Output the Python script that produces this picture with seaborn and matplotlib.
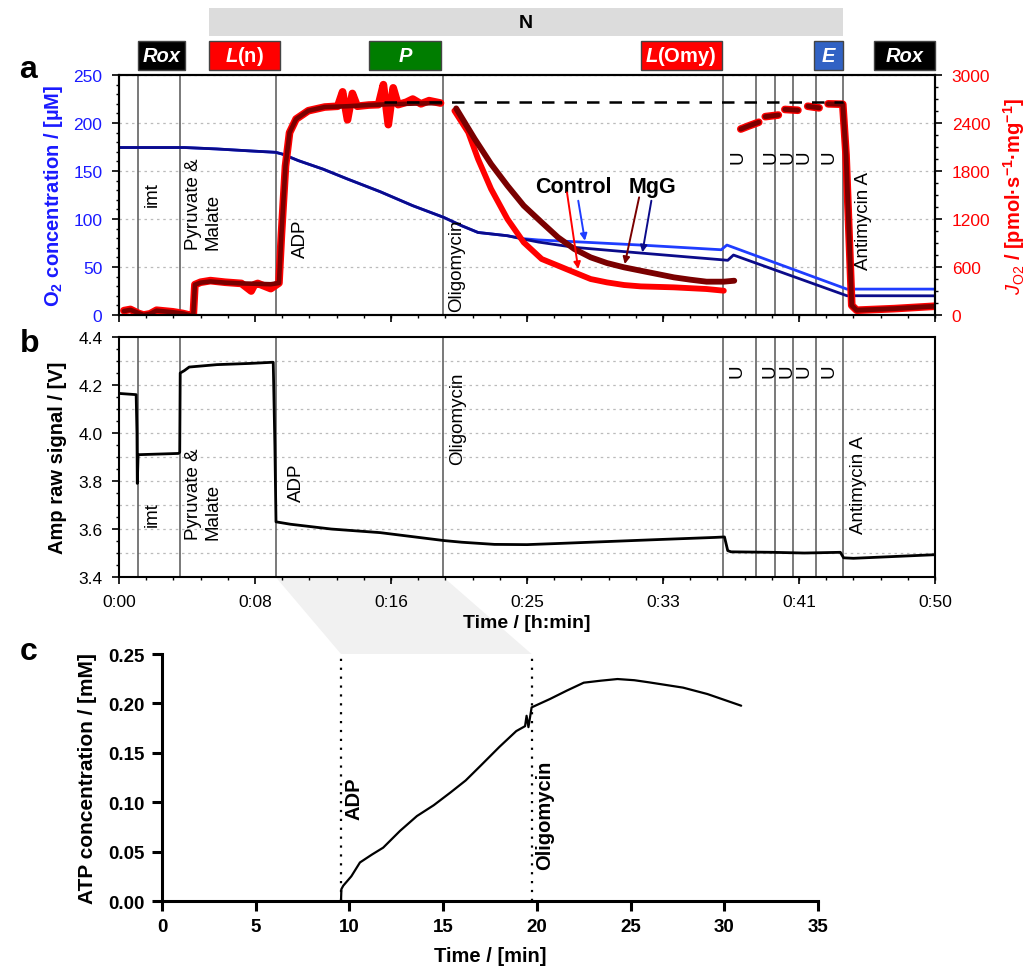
import matplotlib
matplotlib.use("Agg")
import matplotlib.pyplot as plt
import matplotlib.transforms as mtransforms
from matplotlib.patches import Rectangle, Polygon
from matplotlib.ticker import MultipleLocator, AutoMinorLocator, FormatStrFormatter
import seaborn as sns

# ---------------- data ----------------
TIME_TICKS = [0, 8.333, 16.667, 25, 33.333, 41.667, 50]
TIME_TICK_LABELS = ["0:00", "0:08", "0:16", "0:25", "0:33", "0:41", "0:50"]

EVENT_T = [1.16, 3.73, 9.6, 19.87, 37.04, 39.06, 40.22, 41.32, 42.73, 44.38]
EVENT_NAMES = ["imt", "Pyruvate &\nMalate", "ADP", "Oligomycin",
               "U", "U", "U", "U", "U", "Antimycin A"]

STATE_NAMES = ["Rox", "L(n)", "P", "L(Omy)", "E", "Rox"]
STATE_START = [1.16, 5.5, 15.34, 31.97, 42.6, 46.27]
STATE_END = [4.03, 9.84, 19.74, 36.92, 44.38, 50.0]
STATE_COLORS = ["#000000", "#ff0000", "#007d00", "#ff0000", "#3162c4", "#000000"]
N_SPAN = [5.5, 44.38]

# O2 concentration [uM]
O2_CTRL_T = [0, 4, 6, 8, 9.6, 10, 11, 12.5, 14, 16, 18, 19.9, 21, 22, 23.8, 24.8,
             25.7, 27.9, 31.95, 36.9, 37.25, 44.6, 50]
O2_CTRL = [174.5, 174.5, 173, 171, 169.5, 167.7, 160.8, 152, 141.7, 128.5, 113.9,
           101.7, 93, 86, 82.6, 79.5, 78.2, 76.4, 72.9, 68, 72.9, 27, 27]
O2_MGG_T = [0, 4, 6, 8, 9.6, 10, 11, 12.5, 14, 16, 18, 19.9, 21, 22, 23.8, 24.8,
            25.7, 27.9, 31.95, 36.9, 37.3, 37.65, 44.6, 50]
O2_MGG = [174.5, 174.5, 173, 171, 169.5, 167.7, 160.8, 152, 141.7, 128.5, 113.9,
          101.7, 93, 86, 82.6, 79, 76, 70.5, 64.6, 57.6, 57, 62.5, 20.1, 20]

# O2 flux J_O2 [pmol/(s*mg)]
CTRL_J_T1 = [0.3, 0.7, 1.2, 1.5, 1.9, 2.3, 2.8, 3.3, 3.9, 4.3, 4.55, 4.65, 5.0, 5.6,
             6.5, 7.5, 8.1, 8.3, 8.5, 9.3, 9.8, 9.95, 10.2, 10.45, 10.85, 11.6, 12.6,
             13.4, 13.7, 14.0, 14.3, 14.6, 15.3, 15.9, 16.2, 16.5, 16.8, 17.1, 17.6,
             18.0, 18.5, 19.0, 19.7]
CTRL_J1 = [55, 70, 20, 0, 15, 60, 50, 40, 20, 0, 0, 380, 410, 430, 410, 395, 300,
           380, 395, 330, 400, 1000, 1860, 2280, 2450, 2554, 2600, 2610, 2790, 2440,
           2770, 2610, 2625, 2630, 2880, 2380, 2840, 2630, 2660, 2700, 2640, 2680, 2650]
MGG_J_T1 = [0.3, 0.7, 1.2, 1.5, 1.9, 2.3, 2.8, 3.3, 3.9, 4.3, 4.55, 4.65, 5.0, 5.6,
            6.5, 7.5, 8.5, 9.3, 9.8, 9.95, 10.2, 10.45, 10.85, 11.6, 12.6, 14.0, 15.3,
            16.5, 17.5, 18.5, 19.7]
MGG_J1 = [50, 65, 25, 0, 15, 55, 45, 35, 20, 0, 0, 380, 405, 420, 405, 395, 390, 385,
          400, 1000, 1860, 2280, 2450, 2554, 2600, 2610, 2625, 2635, 2640, 2645, 2650]

CTRL_J_T2 = [20.55, 21.4, 22.0, 22.8, 23.8, 24.8, 25.9, 26.9, 27.9, 28.9, 29.9, 30.95,
             31.97, 34.0, 36.0, 37.06]
CTRL_J2 = [2554, 2283, 1950, 1575, 1200, 908, 700, 617, 533, 450, 408, 375, 358, 346,
           325, 304]
MGG_J_T2 = [20.66, 21.8, 22.8, 23.8, 24.8, 25.9, 26.9, 27.9, 28.9, 29.9, 30.95, 31.97,
            33.0, 34.0, 35.0, 36.0, 37.06, 37.7]
MGG_J2 = [2583, 2200, 1887, 1617, 1367, 1158, 971, 825, 721, 650, 596, 554, 512, 471,
          442, 417, 417, 429]

# uncoupler titration steps and antimycin tail (both traces overlap)
U_J_T = [[38.1, 38.6, 39.2], [39.6, 40.4], [40.8, 41.6], [42.2, 42.9],
         [43.45, 44.35, 44.55, 44.9, 45.2, 47.5, 50]]
U_J = [[2325, 2365, 2410], [2480, 2500], [2570, 2560], [2610, 2590],
       [2640, 2635, 2000, 120, 60, 80, 110]]

MAX_REF = 2660
MAX_REF_SPAN = [16.26, 44.38]

# Amp raw signal [V]
AMP_T = [0, 1.05, 1.1, 1.12, 1.17, 1.3, 3.65, 3.72, 3.75, 4.0, 4.3, 6, 8, 9.45, 9.55,
         9.62, 10.5, 13, 16, 19.9, 21, 23, 25, 27, 30, 33, 36.5, 37.1, 37.3, 37.5, 40,
         42, 44.2, 44.4, 45, 47, 50]
AMP_V = [4.165, 4.16, 4.0, 3.79, 3.91, 3.91, 3.915, 3.92, 4.25, 4.26, 4.275, 4.285,
         4.29, 4.295, 3.95, 3.63, 3.62, 3.60, 3.585, 3.552, 3.545, 3.536, 3.535, 3.54,
         3.548, 3.556, 3.565, 3.567, 3.51, 3.505, 3.503, 3.50, 3.503, 3.48, 3.478,
         3.484, 3.493]

# ATP concentration [mM]
ATP_T = [9.55, 9.57, 9.67, 10.1, 10.56, 11.2, 11.8, 12.7, 13.6, 14.5, 15.4, 16.2, 17.0,
         18.0, 18.9, 19.37, 19.45, 19.55, 19.72, 20.7, 21.6, 22.5, 23.4, 24.3, 25.2,
         26.0, 27.8, 29.1, 30.9]
ATP = [0.0, 0.012, 0.0155, 0.025, 0.039, 0.047, 0.054, 0.071, 0.086, 0.097, 0.110,
       0.122, 0.137, 0.156, 0.172, 0.177, 0.1875, 0.176, 0.196, 0.2045, 0.213, 0.221,
       0.223, 0.2247, 0.2235, 0.2213, 0.216, 0.2095, 0.1977]
ATP_EVENT_T = [9.55, 19.72]
ATP_EVENT_NAMES = ["ADP", "Oligomycin"]

# ---------------- style ----------------
sns.set_style("ticks")
plt.rcParams["font.family"] = ["Liberation Sans", "DejaVu Sans"]
plt.rcParams["mathtext.fontset"] = "custom"
plt.rcParams["mathtext.rm"] = "Liberation Sans"
plt.rcParams["mathtext.it"] = "Liberation Sans:italic"
plt.rcParams["mathtext.bf"] = "Liberation Sans:bold"
plt.rcParams["mathtext.bfit"] = "Liberation Sans:italic:bold"
for key in ("text.color", "axes.labelcolor", "axes.edgecolor",
            "xtick.color", "ytick.color", "xtick.labelcolor", "ytick.labelcolor"):
    plt.rcParams[key] = "black"

BLUE_TXT = "#1a1aff"
RED = "#ff0000"
DARK_RED = "#7a0000"
CTRL_BLUE = "#1f3dff"
MGG_BLUE = "#0b0b8a"
EVENT_COLOR = "#555555"

fig = plt.figure(figsize=(10.26, 9.70), dpi=100)
axa = fig.add_axes([0.116, 0.6742, 0.7953, 0.2474])
axb = fig.add_axes([0.116, 0.4041, 0.7953, 0.2474])
axc = fig.add_axes([0.1579, 0.0701, 0.6394, 0.2546])
axj = axa.twinx()

# ---------------- panel a ----------------
for t in EVENT_T:
    axa.axvline(t, color=EVENT_COLOR, lw=1.1, zorder=1)

sns.lineplot(x=O2_CTRL_T, y=O2_CTRL, ax=axa, color=CTRL_BLUE, lw=2.0,
             estimator=None, sort=False, legend=False)
sns.lineplot(x=O2_MGG_T, y=O2_MGG, ax=axa, color=MGG_BLUE, lw=2.0,
             estimator=None, sort=False, legend=False)

sns.lineplot(x=CTRL_J_T1, y=CTRL_J1, ax=axj, color=RED, lw=5.5,
             estimator=None, sort=False, legend=False)
sns.lineplot(x=MGG_J_T1, y=MGG_J1, ax=axj, color=DARK_RED, lw=3.3,
             estimator=None, sort=False, legend=False)
sns.lineplot(x=CTRL_J_T2, y=CTRL_J2, ax=axj, color=RED, lw=4.2,
             estimator=None, sort=False, legend=False)
sns.lineplot(x=MGG_J_T2, y=MGG_J2, ax=axj, color=DARK_RED, lw=4.2,
             estimator=None, sort=False, legend=False)
for tt, jj in zip(U_J_T, U_J):
    sns.lineplot(x=tt, y=jj, ax=axj, color=RED, lw=5.5,
                 estimator=None, sort=False, legend=False)
    sns.lineplot(x=tt, y=jj, ax=axj, color=DARK_RED, lw=3.5,
                 estimator=None, sort=False, legend=False)
axj.hlines(MAX_REF, MAX_REF_SPAN[0], MAX_REF_SPAN[1], colors="black", lw=1.8,
           linestyles=(0, (5, 4)))

axa.set_xlim(0, 50)
axa.set_ylim(0, 250)
axj.set_ylim(0, 3000)
axa.set_xticks(TIME_TICKS)
axa.xaxis.set_minor_locator(AutoMinorLocator(5))
axa.tick_params(labelbottom=False)
axa.yaxis.set_major_locator(MultipleLocator(50))
axa.yaxis.set_minor_locator(MultipleLocator(10))
axj.yaxis.set_major_locator(MultipleLocator(600))
axj.yaxis.set_minor_locator(MultipleLocator(150))
axa.grid(axis="y", linestyle=(0, (2, 3)), color="#bbbbbb", lw=0.9)
axa.tick_params(axis="y", labelcolor=BLUE_TXT, labelsize=12.5, pad=7)
axj.tick_params(axis="y", labelcolor=RED, labelsize=12.5, pad=7)
for ax in (axa, axj):
    ax.tick_params(which="major", length=5, width=1.2, direction="out", color="black")
    ax.tick_params(which="minor", length=2.5, width=1.0, direction="out", color="black")
    for s in ax.spines.values():
        s.set_linewidth(1.5)
        s.set_color("black")
axa.set_ylabel(r"O$_{\mathbf{2}}$ concentration / [µM]", color=BLUE_TXT,
               fontsize=14.5, weight="bold", labelpad=6)
axj.set_ylabel(r"$J_{\mathrm{O2}}$ / [pmol·s$^{\mathbf{-1}}$·mg$^{\mathbf{-1}}$]",
               color=RED, fontsize=14.5, weight="bold", rotation=90, labelpad=8)

# event labels, panel a (value on O2 axis, offset in pt)
lab_a_y = [113.5, 68.75, 60.4, 4.2, 158, 158, 158, 158, 158, 48]
lab_a_dx = [4.5, 3.8, 12, 3.6, 4.3, 4, 3, 1.5, 3, 8.5]
for t, name, y, dx in zip(EVENT_T, EVENT_NAMES, lab_a_y, lab_a_dx):
    axa.annotate(name, xy=(t, y), xytext=(dx, 0), textcoords="offset points",
                 rotation=90, ha="left", va="bottom", fontsize=13.5,
                 multialignment="left", zorder=5)

# Control / MgG annotations
axj.text(27.83, 1608, "Control", ha="center", va="center", fontsize=15.5, weight="bold")
axj.text(32.72, 1608, "MgG", ha="center", va="center", fontsize=15.5, weight="bold")
arrows = [((27.45, 1533), (28.14, 575), RED),
          ((28.14, 1429), (28.55, 929), CTRL_BLUE),
          ((31.87, 1471), (30.99, 637), DARK_RED),
          ((32.62, 1429), (32.07, 783), MGG_BLUE)]
for tail, head, c in arrows:
    axj.annotate("", xy=head, xytext=tail,
                 arrowprops=dict(arrowstyle="-|>", color=c, lw=1.4,
                                 mutation_scale=10, shrinkA=0, shrinkB=0))

# state boxes above panel a
trans = mtransforms.blended_transform_factory(axa.transData, axa.transAxes)
axa.add_patch(Rectangle((N_SPAN[0], 1.1625), N_SPAN[1] - N_SPAN[0], 0.1165,
                        transform=trans, facecolor="#dcdcdc", edgecolor="none",
                        clip_on=False))
axa.text(24.9, 1.221, "N", transform=trans, ha="center", va="center",
         fontsize=14, weight="bold")
for name, s, e, c in zip(STATE_NAMES, STATE_START, STATE_END, STATE_COLORS):
    axa.add_patch(Rectangle((s, 1.021), e - s, 0.1205, transform=trans,
                            facecolor=c, edgecolor="#444444", lw=1.0, clip_on=False))
    if name.startswith("L("):
        label = r"$\mathbfit{L}$" + name[1:]
        style = "normal"
    else:
        label = name
        style = "italic"
    axa.text((s + e) / 2, 1.081, label, transform=trans, ha="center", va="center",
             color="white", fontsize=14.5, weight="bold", style=style)

# ---------------- panel b ----------------
for t in EVENT_T:
    axb.axvline(t, color=EVENT_COLOR, lw=1.1, zorder=1)
sns.lineplot(x=AMP_T, y=AMP_V, ax=axb, color="black", lw=2.0,
             estimator=None, sort=False, legend=False)
axb.set_xlim(0, 50)
axb.set_ylim(3.4, 4.4)
axb.set_xticks(TIME_TICKS)
axb.set_xticklabels(TIME_TICK_LABELS)
axb.xaxis.set_minor_locator(AutoMinorLocator(5))
axb.yaxis.set_major_locator(MultipleLocator(0.2))
axb.yaxis.set_minor_locator(MultipleLocator(0.05))
axb.yaxis.set_major_formatter(FormatStrFormatter("%.1f"))
for g in [3.5, 3.6, 3.7, 3.8, 3.9, 4.0, 4.1, 4.2, 4.3]:
    axb.axhline(g, linestyle=(0, (2, 3)), color="#bbbbbb", lw=0.9, zorder=0)
axb.tick_params(which="major", length=5, width=1.2, direction="out",
                labelsize=12.5, pad=7)
axb.tick_params(which="minor", length=2.5, width=1.0, direction="out")
for s in axb.spines.values():
    s.set_linewidth(1.5)
axb.set_ylabel("Amp raw signal / [V]", fontsize=14.5, weight="bold", labelpad=8)
axb.set_xlabel("Time / [h:min]", fontsize=14, weight="bold", labelpad=4)

lab_b_y = [3.614, 3.558, 3.718, 3.871, 4.233, 4.233, 4.233, 4.233, 4.233, 3.583]
lab_b_dx = [4.5, 3.6, 9, 4.3, 3.6, 3.6, 2.5, 1.5, 3, 5]
for t, name, y, dx in zip(EVENT_T, EVENT_NAMES, lab_b_y, lab_b_dx):
    axb.annotate(name, xy=(t, y), xytext=(dx, 0), textcoords="offset points",
                 rotation=90, ha="left", va="bottom", fontsize=13.5,
                 multialignment="left", zorder=5)

# ---------------- panel c ----------------
for t in ATP_EVENT_T:
    axc.axvline(t, color="black", lw=1.6, linestyle=(0, (1, 3)), zorder=1)
sns.lineplot(x=ATP_T, y=ATP, ax=axc, color="black", lw=1.6,
             estimator=None, sort=False, legend=False)
axc.set_xlim(0, 35)
axc.set_ylim(0, 0.25)
axc.set_xticks([0, 5, 10, 15, 20, 25, 30, 35])
axc.set_yticks([0, 0.05, 0.10, 0.15, 0.20, 0.25])
axc.yaxis.set_major_formatter(FormatStrFormatter("%.2f"))
sns.despine(ax=axc)
for s in ("left", "bottom"):
    axc.spines[s].set_linewidth(2.2)
axc.tick_params(length=7.5, width=2.2, direction="out", labelsize=13.5, pad=5)
for lab in axc.get_xticklabels() + axc.get_yticklabels():
    lab.set_fontweight("bold")
axc.set_xlabel("Time / [min]", fontsize=14.5, weight="bold", labelpad=8)
axc.set_ylabel("ATP concentration / [mM]", fontsize=15, weight="bold", labelpad=8)
for t, name, y in zip(ATP_EVENT_T, ATP_EVENT_NAMES, [0.083, 0.032]):
    axc.annotate(name, xy=(t, y), xytext=(2.5, 0), textcoords="offset points",
                 rotation=90, ha="left", va="bottom", fontsize=14.5, weight="bold")

# zoom wedge between panel b and panel c
inv = fig.transFigure.inverted()
pts = [inv.transform(axb.transData.transform((EVENT_T[2], 3.4))),
       inv.transform(axb.transData.transform((EVENT_T[3], 3.4))),
       inv.transform(axc.transData.transform((ATP_EVENT_T[1], 0.25))),
       inv.transform(axc.transData.transform((ATP_EVENT_T[0], 0.25)))]
fig.add_artist(Polygon(pts, closed=True, transform=fig.transFigure,
                       facecolor="#f1f1f1", edgecolor="none", zorder=-1))

# panel letters
fig.text(0.019, 1 - 70 / 970, "a", fontsize=23, weight="bold", va="center")
fig.text(0.019, 1 - 344 / 970, "b", fontsize=23, weight="bold", va="center")
fig.text(0.019, 1 - 652 / 970, "c", fontsize=23, weight="bold", va="center")

fig.savefig("out.png", dpi=100)
